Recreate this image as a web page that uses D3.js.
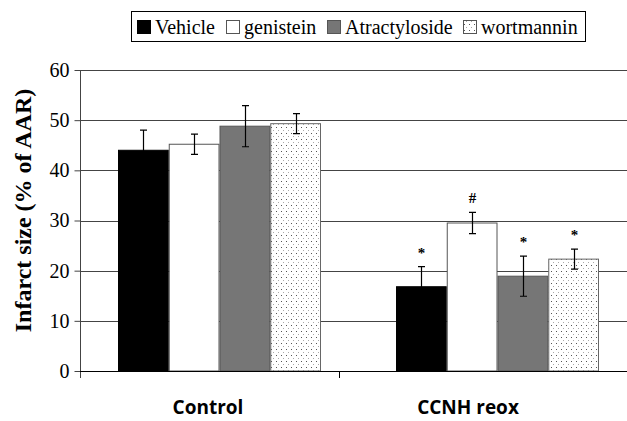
<!DOCTYPE html>
<html>
<head>
<meta charset="utf-8">
<script src="https://cdn.jsdelivr.net/npm/d3@7"></script>
<style>
  body { margin: 0; background: #fff; }
  svg { display: block; }
  .tick-label { font-family: 'Liberation Serif', 'Times New Roman', serif; font-size: 20px; fill: #000; }
  .legend-label { font-family: 'Liberation Serif', 'Times New Roman', serif; font-size: 20px; fill: #000; }
  .axis-title { font-family: 'Liberation Serif', 'Times New Roman', serif; font-size: 24px; font-weight: bold; fill: #000; }
  .cat-label { font-family: 'Open Sans', 'Liberation Sans', sans-serif; font-size: 19px; font-weight: bold; fill: #000; }
  .mark { font-family: 'Liberation Serif', serif; font-size: 15px; font-weight: bold; fill: #000; }
</style>
</head>
<body>
<svg id="chart"></svg>
<script>
// data
const categories = ['Control', 'CCNH reox'];
const seriesNames = ['Vehicle', 'genistein', 'Atractyloside', 'wortmannin'];
const vehicleMean = [44.0, 16.8];
const vehicleErr = [4.0, 4.0];
const genisteinMean = [45.2, 29.5];
const genisteinErr = [2.0, 2.1];
const atractylosideMean = [48.8, 18.9];
const atractylosideErr = [4.1, 4.0];
const wortmanninMean = [49.3, 22.3];
const wortmanninErr = [2.0, 2.0];
const vehicleMark = ['', '*'];
const genisteinMark = ['', '#'];
const atractylosideMark = ['', '*'];
const wortmanninMark = ['', '*'];
const yTicks = [0, 10, 20, 30, 40, 50, 60];

const means = [vehicleMean, genisteinMean, atractylosideMean, wortmanninMean];
const errs = [vehicleErr, genisteinErr, atractylosideErr, wortmanninErr];
const marks = [vehicleMark, genisteinMark, atractylosideMark, wortmanninMark];

const width = 627, height = 421;
const plot = { left: 80, top: 70, bottom: 371 };

const svg = d3.select('#chart').attr('width', width).attr('height', height);

// dotted fill for wortmannin
const defs = svg.append('defs');
const pat = defs.append('pattern')
  .attr('id', 'dots')
  .attr('patternUnits', 'userSpaceOnUse')
  .attr('width', 5).attr('height', 6);
pat.append('rect').attr('width', 5).attr('height', 6).attr('fill', '#fff');
pat.append('rect').attr('x', 1).attr('y', 1).attr('width', 1).attr('height', 1).attr('fill', '#555');
pat.append('rect').attr('x', 3).attr('y', 4).attr('width', 1).attr('height', 1).attr('fill', '#aaa');

const fills = ['#000', '#fff', '#767676', 'url(#dots)'];
const strokes = ['#000', '#555', '#555', '#666'];

const yScale = d3.scaleLinear().domain([0, 60]).range([plot.bottom, plot.top]);
const xScale = d3.scaleBand().domain(categories).range([plot.left, 636]);
const xSub = d3.scaleBand().domain(seriesNames).range([38, 241]);

// gridlines
svg.append('g')
  .selectAll('line')
  .data(yTicks.filter(d => d > 0))
  .join('line')
  .attr('x1', plot.left)
  .attr('x2', width)
  .attr('y1', d => Math.round(yScale(d)) + 0.5)
  .attr('y2', d => Math.round(yScale(d)) + 0.5)
  .attr('stroke', '#444')
  .attr('stroke-width', 1);

// y axis
const yAxis = d3.axisLeft(yScale).tickValues(yTicks).tickSize(6).tickPadding(5).tickSizeOuter(0);
const yAxisG = svg.append('g')
  .attr('transform', `translate(${plot.left + 0.5},0)`)
  .call(yAxis);
yAxisG.select('.domain').attr('stroke', '#444');
yAxisG.selectAll('.tick line').attr('stroke', '#444');
yAxisG.selectAll('.tick text').attr('class', 'tick-label').attr('font-size', null).attr('font-family', null);
yAxisG.select('.domain').attr('d', `M0,${plot.top}V${plot.bottom + 7}`);

// bars
const groups = svg.append('g')
  .selectAll('g')
  .data(seriesNames)
  .join('g');

groups.each(function (name, si) {
  const g = d3.select(this);
  const rows = categories.map((c, ci) => ({
    cat: c,
    mean: means[si][ci],
    err: errs[si][ci],
    mark: marks[si][ci],
  }));
  g.selectAll('rect')
    .data(rows)
    .join('rect')
    .attr('x', d => xScale(d.cat) + xSub(name) + 0.5)
    .attr('y', d => yScale(d.mean))
    .attr('width', xSub.bandwidth() - 1)
    .attr('height', d => yScale(0) - yScale(d.mean))
    .attr('fill', fills[si])
    .attr('stroke', strokes[si])
    .attr('stroke-width', 1);

  const cx = d => Math.round(xScale(d.cat) + xSub(name) + xSub.bandwidth() / 2) + 0.5;
  g.selectAll('.err')
    .data(rows)
    .join('path')
    .attr('class', 'err')
    .attr('d', d => {
      const x = cx(d);
      const y0 = yScale(d.mean - d.err), y1 = yScale(d.mean + d.err);
      return `M${x},${y0}V${y1}M${x - 3.5},${y0}H${x + 3.5}M${x - 3.5},${y1}H${x + 3.5}`;
    })
    .attr('fill', 'none')
    .attr('stroke', '#000')
    .attr('stroke-width', 1.2);

  g.selectAll('.mark')
    .data(rows.filter(d => d.mark))
    .join('text')
    .attr('class', 'mark')
    .attr('x', cx)
    .attr('y', d => yScale(d.mean + d.err) - 9)
    .attr('text-anchor', 'middle')
    .text(d => d.mark);
});

// x axis baseline with ticks
const xAxisG = svg.append('g');
xAxisG.append('line')
  .attr('x1', plot.left)
  .attr('x2', width)
  .attr('y1', Math.round(yScale(0)) + 0.5)
  .attr('y2', Math.round(yScale(0)) + 0.5)
  .attr('stroke', '#000');
xAxisG.selectAll('.xtick')
  .data(categories.slice(1))
  .join('line')
  .attr('class', 'xtick')
  .attr('x1', d => Math.round(xScale(d) - 19) + 0.5)
  .attr('x2', d => Math.round(xScale(d) - 19) + 0.5)
  .attr('y1', yScale(0))
  .attr('y2', yScale(0) + 7)
  .attr('stroke', '#000');

// category labels
const labelShift = [-11, -29];
svg.selectAll('.cat-label')
  .data(categories)
  .join('text')
  .attr('class', 'cat-label')
  .attr('x', (d, i) => xScale(d) + xScale.bandwidth() / 2 + labelShift[i])
  .attr('y', 414)
  .attr('text-anchor', 'middle')
  .text(d => d);

// y axis title
svg.append('text')
  .attr('class', 'axis-title')
  .attr('transform', `translate(31,${(plot.top + plot.bottom) / 2 - 10}) rotate(-90)`)
  .attr('text-anchor', 'middle')
  .text('Infarct size (% of AAR)');

// legend
const legend = svg.append('g').attr('transform', 'translate(131,11)');
legend.append('rect')
  .attr('x', 0.5).attr('y', 0.5)
  .attr('width', 454).attr('height', 30)
  .attr('fill', '#fff')
  .attr('stroke', '#000');
const legendX = [6, 95, 196, 332];
const item = legend.selectAll('.item')
  .data(seriesNames)
  .join('g')
  .attr('class', 'item')
  .attr('transform', (d, i) => `translate(${legendX[i]},0)`);
item.append('rect')
  .attr('x', 0.5).attr('y', 9.5)
  .attr('width', 13).attr('height', 13)
  .attr('fill', (d, i) => fills[i])
  .attr('stroke', (d, i) => i === 0 ? '#000' : '#555');
item.append('text')
  .attr('class', 'legend-label')
  .attr('x', 18)
  .attr('y', 23)
  .text(d => d);
</script>
</body>
</html>
